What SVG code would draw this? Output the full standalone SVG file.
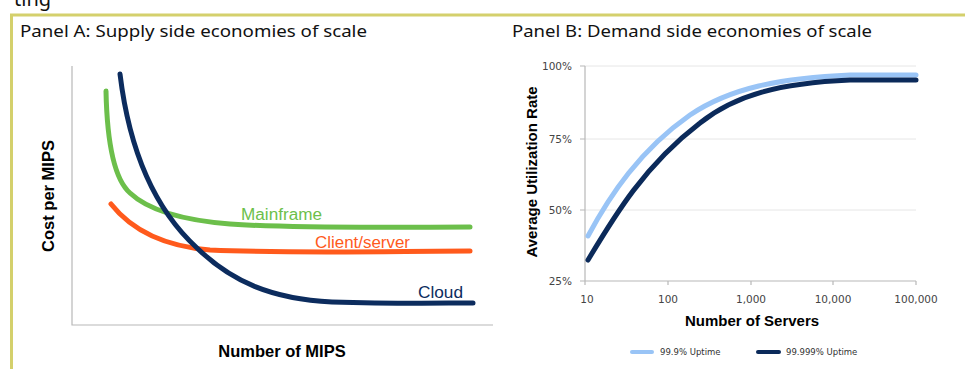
<svg xmlns="http://www.w3.org/2000/svg" width="965" height="369" viewBox="0 0 965 369">
<style>
.title{font-family:"Noto Sans","DejaVu Sans",sans-serif;font-size:17px;fill:#111}
.ax{stroke:#b8b8b8;stroke-width:1.2;fill:none}
.grid{stroke:#e6e6e6;stroke-width:1;fill:none}
.curve{fill:none;stroke-width:5;stroke-linecap:round;stroke-linejoin:round}
.bold{font-family:"Liberation Sans",Arial,sans-serif;font-weight:bold;fill:#000}
.lbl{font-family:"Liberation Sans",Arial,sans-serif;font-size:16px}
.tick{font-family:"DejaVu Sans",sans-serif;font-size:10.5px;fill:#444}
.leg{font-family:"DejaVu Sans",sans-serif;font-size:8.5px;fill:#333}
</style>
<rect width="965" height="369" fill="#fff"/>
<text x="14" y="6" style="font-family:'Noto Sans',sans-serif;font-size:20px;fill:#111">ting</text>
<g id="frame">
<line x1="10" y1="15" x2="965" y2="15" stroke="#d4d06c" stroke-width="3"/>
<line x1="11.5" y1="14" x2="11.5" y2="369" stroke="#d4d06c" stroke-width="3"/>
</g>
<g id="panelA">
<text class="title" x="20" y="37" textLength="347" lengthAdjust="spacingAndGlyphs">Panel A: Supply side economies of scale</text>
<path class="ax" d="M72,66 V325 H493"/>
<text class="bold" font-size="16.5" transform="translate(54,196) rotate(-90)" text-anchor="middle">Cost per MIPS</text>
<text class="bold" font-size="16.5" x="282" y="357" text-anchor="middle">Number of MIPS</text>
<path class="curve" stroke="#6cbf4b" d="M106,91 C107,140 113,178 130,193 C148,210 180,220 230,224 C300,229 400,227 470,227"/>
<path class="curve" stroke="#ff5a1c" d="M111,204 C130,228 160,246 210,250 C300,254 400,251 470,251"/>
<path class="curve" stroke="#0c2c5e" d="M120,74 C128,140 150,205 197,248 C232,282 272,299 332,302 C400,304 440,303 473,303"/>
<text class="lbl" x="241" y="220" fill="#6cbf4b" textLength="81" lengthAdjust="spacingAndGlyphs">Mainframe</text>
<text class="lbl" x="315" y="248" fill="#ff5a1c" textLength="95" lengthAdjust="spacingAndGlyphs">Client/server</text>
<text class="lbl" x="418" y="298" fill="#0c2c5e" textLength="45" lengthAdjust="spacingAndGlyphs">Cloud</text>
</g>
<g id="panelB">
<text class="title" x="512" y="37" textLength="360" lengthAdjust="spacingAndGlyphs">Panel B: Demand side economies of scale</text>
<path class="grid" d="M585,66 H916 M585,139 H916 M585,210 H916"/>
<path class="ax" d="M585,66 V281 H916 M580,66 H585 M580,139 H585 M580,210 H585 M580,281 H585 M585,281 V285 M668,281 V285 M751,281 V285 M833,281 V285 M916,281 V285"/>
<text class="tick" x="572" y="70" text-anchor="end">100%</text>
<text class="tick" x="572" y="143" text-anchor="end">75%</text>
<text class="tick" x="572" y="214" text-anchor="end">50%</text>
<text class="tick" x="572" y="285" text-anchor="end">25%</text>
<text class="tick" x="587" y="303" text-anchor="middle">10</text>
<text class="tick" x="668" y="303" text-anchor="middle">100</text>
<text class="tick" x="751" y="303" text-anchor="middle">1,000</text>
<text class="tick" x="833" y="303" text-anchor="middle">10,000</text>
<text class="tick" x="916" y="303" text-anchor="middle">100,000</text>
<text class="bold" font-size="15" transform="translate(537,172) rotate(-90)" text-anchor="middle">Average Utilization Rate</text>
<text class="bold" font-size="15" x="752" y="326" text-anchor="middle">Number of Servers</text>
<path class="curve" stroke="#99c4f6" d="M588,236 C610,195 640,150 690,115 C730,88 780,78 850,75 L916,75"/>
<path class="curve" stroke="#0b2a5a" d="M588,260 C615,215 645,165 700,123 C735,95 780,83 850,80 L916,80"/>
</g>
<g id="legend">
<line x1="632" y1="352" x2="652" y2="352" stroke="#99c4f6" stroke-width="4" stroke-linecap="round"/>
<text class="leg" x="660" y="355">99.9% Uptime</text>
<line x1="758" y1="352" x2="779" y2="352" stroke="#0b2a5a" stroke-width="4" stroke-linecap="round"/>
<text class="leg" x="786" y="355">99.999% Uptime</text>
</g>
</svg>
